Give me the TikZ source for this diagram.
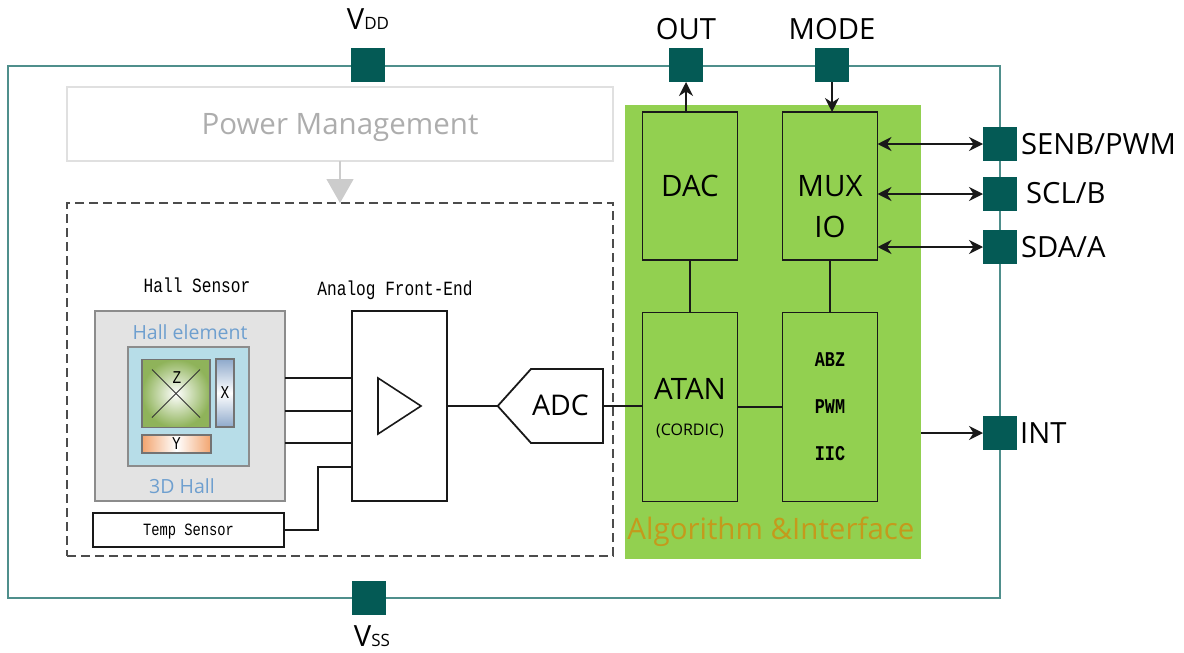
\documentclass[tikz,border=0pt]{standalone}
\usepackage{fontspec}
\usepackage{xcolor}
\usetikzlibrary{arrows.meta,shapes.symbols}
\setmainfont{Open Sans}
\setmonofont[FakeStretch=0.8]{Liberation Mono}
\definecolor{padteal}{HTML}{045A55}
\definecolor{chipline}{HTML}{4F8F8C}
\definecolor{panelgreen}{HTML}{92D050}
\definecolor{algotext}{HTML}{C49A1C}
\definecolor{hallblue}{HTML}{6E9FCF}
\definecolor{elementblue}{HTML}{B7DDE8}
\definecolor{zgreen}{HTML}{8FB35A}
\definecolor{xblue}{HTML}{8EA9CB}
\definecolor{yorange}{HTML}{F2A46E}
\tikzset{
    pad-box/.style = {fill=padteal, rectangle, minimum width=34pt, minimum height=34pt, inner sep=0pt, outer sep=0pt},
    pad-label/.style = {text=black, inner sep=0pt, font=\fontsize{29.2}{29.2}\selectfont},
    core-box/.style = {draw=black!90, line width=1.8pt, rectangle, minimum width=95pt, inner sep=0pt, outer sep=0pt},
    core-label/.style = {inner sep=0pt, align=center, font=\fontsize{29.5}{41}\selectfont},
    mono-label/.style = {inner sep=0pt, font=\ttfamily\fontsize{20.2}{20.2}\selectfont},
    abz-label/.style = {inner sep=0pt, font=\ttfamily\bfseries\fontsize{21}{21}\selectfont},
    wire/.style = {draw=black!90, line width=2pt},
    one-way/.style = {wire, -{Stealth[length=14pt,width=14pt]}},
    two-way/.style = {wire, {Stealth[length=14pt,width=14pt]}-{Stealth[length=14pt,width=14pt]}},
}
\begin{document}
\begin{tikzpicture}[x=1pt, y=-1pt]
\useasboundingbox (0,0) rectangle (1184,653);
\node [draw=chipline, line width=1.4pt, minimum width=992pt, minimum height=532pt, inner sep=0pt, outer sep=0pt] (chip) at (504,332) {};
\node [fill=panelgreen, minimum width=296pt, minimum height=454pt, inner sep=0pt, outer sep=0pt] (panel) at (773,332) {};
\node [text=algotext, inner sep=0pt, font=\fontsize{29.5}{29.5}\selectfont] (algo) at (771,532) {Algorithm \&Interface};

\node [draw=black!12, line width=2pt, minimum width=546pt, minimum height=74pt, inner sep=0pt, outer sep=0pt] (power) at (340,124) {};
\node [text=black!32, inner sep=0pt, font=\fontsize{29.5}{29.5}\selectfont] (power-label) at (340,128) {Power Management};
\node [draw=black!70, line width=1.2pt, dash pattern=on 9pt off 5pt, minimum width=546pt, minimum height=353pt, inner sep=0pt, outer sep=0pt] (analog) at (340,379.5) {};
\draw [draw=black!20, line width=1.4pt, -{Triangle[length=24pt,width=27pt]}] (power.south -| analog.north) -- (analog.north);

\node [pad-box] (vdd) at (368,65) {};
\node [pad-box] (vss) at (369,598) {};
\node [pad-box] (out) at (686,65) {};
\node [pad-box] (mode) at (832,65) {};
\node [pad-box] (senb) at (1000,144) {};
\node [pad-box] (scl) at (1000,194) {};
\node [pad-box] (sda) at (1000,247) {};
\node [pad-box] (int) at (1000,433) {};

\node [pad-label] (vdd-label) at (368,19) {V{\fontsize{17}{17}\selectfont DD}};
\node [pad-label] (vss-label) at (372,636) {V{\fontsize{17}{17}\selectfont SS}};
\node [pad-label] (out-label) at (686,29) {OUT};
\node [pad-label] (mode-label) at (832,29) {MODE};
\node [pad-label, anchor=west] (senb-label) at (1021,144) {SENB/PWM};
\node [pad-label, anchor=west] (scl-label) at (1026,193) {SCL/B};
\node [pad-label, anchor=west] (sda-label) at (1021,247) {SDA/A};
\node [pad-label, anchor=west] (int-label) at (1020,433) {INT};

\node [core-box, minimum height=148pt] (dac) at (690,186) {};
\node [core-box, minimum height=148pt] (mux) at (830,186) {};
\node [core-box, minimum height=189pt] (atan) at (690,407) {};
\node [core-box, minimum height=189pt] (abz) at (830,407) {};
\node [core-label] (dac-label) at (690,186) {DAC};
\node [core-label] (mux-label) at (830,207) {MUX\\IO};
\node [core-label] (atan-label) at (690,389) {ATAN};
\node [inner sep=0pt, font=\fontsize{16}{16}\selectfont] (cordic-label) at (690,431) {(CORDIC)};
\node [abz-label] (abz-label) at (830,360) {ABZ};
\node [abz-label] (pwm-label) at (830,407) {PWM};
\node [abz-label] (iic-label) at (830,454) {IIC};

\draw [one-way] (out.south |- dac.north) -- (out.south);
\draw [one-way] (mode.south) -- (mode.south |- mux.north);
\draw [two-way] (senb.west -| mux.east) -- (senb.west);
\draw [two-way] (scl.west -| mux.east) -- (scl.west);
\draw [two-way] (sda.west -| mux.east) -- (sda.west);
\draw [one-way] (int.west -| panel.east) -- (int.west);
\draw [wire] (dac.south) -- (atan.north);
\draw [wire] (mux.south) -- (abz.north);
\draw [wire] (atan.east) -- (abz.west);

\node [mono-label] (hall-title) at (197,285) {Hall Sensor};
\node [mono-label] (afe-title) at (395,290) {Analog Front-End};
\node [draw=black!45, fill=black!11, line width=2pt, minimum width=190pt, minimum height=190pt, inner sep=0pt, outer sep=0pt] (hall) at (190,406) {};
\node [text=hallblue, inner sep=0pt, font=\fontsize{19.5}{19.5}\selectfont] (element-label) at (190,332) {Hall element};
\node [text=hallblue, inner sep=0pt, font=\fontsize{19.5}{19.5}\selectfont] (hall3d-label) at (182,486) {3D Hall};
\node [draw=black!45, fill=elementblue, line width=1.6pt, minimum width=121pt, minimum height=119pt, inner sep=0pt, outer sep=0pt] (element) at (188.5,406.5) {};
\node [draw=black!55, line width=1.2pt, inner color=white, outer color=zgreen, minimum width=68pt, minimum height=68pt, inner sep=0pt, outer sep=0pt] (zbox) at (176,393.5) {};
\draw [black!80, line width=0.9pt] ([xshift=10pt,yshift=-10pt]zbox.north west) -- ([xshift=-10pt,yshift=10pt]zbox.south east);
\draw [black!80, line width=0.9pt] ([xshift=-10pt,yshift=-10pt]zbox.north east) -- ([xshift=10pt,yshift=10pt]zbox.south west);
\node [inner sep=0pt, font=\ttfamily\fontsize{18}{18}\selectfont] (z-label) at (177,378) {Z};
\node [draw=black!55, line width=1.2pt, top color=xblue, bottom color=xblue, middle color=white, minimum width=18pt, minimum height=68pt, inner sep=0pt, outer sep=0pt, font=\ttfamily\fontsize{18}{18}\selectfont] (xbox) at (225,393) {X};
\node [draw=black!55, line width=1.2pt, left color=yorange, right color=yorange, middle color=white, minimum width=69pt, minimum height=18pt, inner sep=0pt, outer sep=0pt, font=\ttfamily\fontsize{18}{18}\selectfont] (ybox) at (176.5,444) {Y};
\node [draw=black!90, line width=1.8pt, minimum width=191pt, minimum height=34pt, inner sep=0pt, outer sep=0pt, text depth=0pt, font=\ttfamily\fontsize{17.2}{17.2}\selectfont] (temp) at (188.5,530) {Temp Sensor};
\node [core-box, minimum height=190pt] (afe) at (399.5,406) {};
\node [signal, signal to=west, signal from=nowhere, signal pointer angle=96, draw=black!90, line width=1.8pt, inner xsep=36pt, inner ysep=0pt, minimum height=74pt, outer sep=0pt] (adc) at (567,406) {};
\node [inner sep=0pt, font=\fontsize{28.5}{28.5}\selectfont] (adc-label) at (560.5,405) {ADC};
\draw [black!90, line width=1.6pt] (378,378) -- (378,434) -- (421,406) -- cycle;

\draw [wire] ([yshift=28pt]hall.east) -- ([yshift=28pt]afe.west);
\draw [wire] ([yshift=-5pt]hall.east) -- ([yshift=-5pt]afe.west);
\draw [wire] ([yshift=-37pt]hall.east) -- ([yshift=-37pt]afe.west);
\draw [wire] (temp.east) -- ++(34,0) |- ([yshift=-61pt]afe.west);
\draw [wire] (afe.east) -- (afe.east -| adc.west);
\draw [wire] (adc.east) -- (adc.east -| atan.west);
\end{tikzpicture}
\end{document}
